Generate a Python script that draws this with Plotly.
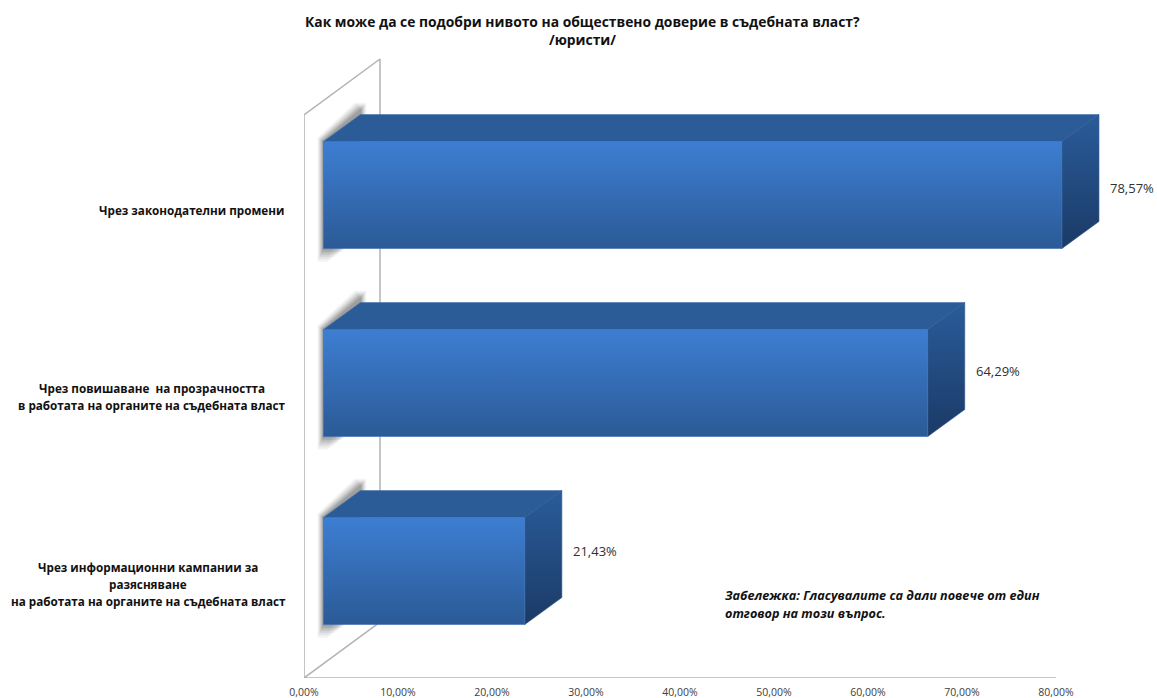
import plotly.graph_objects as go

# ---- data ----
categories = [
    "Чрез законодателни промени",
    "Чрез повишаване  на прозрачността<br>в работата на органите на съдебната власт",
    "Чрез информационни кампании за<br>разясняване<br>на работата на органите на съдебната власт",
]
values = [78.57, 64.29, 21.43]
value_labels = ["78,57%", "64,29%", "21,43%"]
tick_values = [0, 10, 20, 30, 40, 50, 60, 70, 80]
tick_labels = ["0,00%", "10,00%", "20,00%", "30,00%", "40,00%", "50,00%", "60,00%", "70,00%", "80,00%"]
title_lines = ["Как може да се подобри нивото на обществено доверие в съдебната власт?", "/юристи/"]
note_lines = ["Забележка: Гласувалите са дали повече от един", "отговор на този въпрос."]

# ---- geometry / style ----
W, H = 1157, 698
ML, MT, MB = 304, 40, 20
PX_PER_PCT = 9.4
PX_PER_CAT = 188.0
FIRST_CENTER = 195
FONT = "Open Sans"
GRAY = "#b2b2b2"


def dx(p):
    return p / PX_PER_PCT


def dy(p):
    return p / PX_PER_CAT


def paper_x(px):
    return (px - ML) / (W - ML)


def paper_y(py):
    return (H - py - MB) / (H - MT - MB)


x_max = (W - ML) / PX_PER_PCT
y_bottom = (H - MB - FIRST_CENTER) / PX_PER_CAT
y_top = (MT - FIRST_CENTER) / PX_PER_CAT

BAR_X0 = dx(19.4)
HALF_H = dy(53.5)
DX, DY = dx(37), dy(27)
WALL_DX, WALL_DY = dx(76), dy(56)
WALL_H = dy(563)

fig = go.Figure()


def poly(xs, ys, **kw):
    fig.add_trace(go.Scatter(x=xs, y=ys, mode="lines", hoverinfo="skip", showlegend=False, cliponaxis=False, **kw))


# wall + floor
poly([0, 0, WALL_DX, WALL_DX, 0, 80],
     [y_bottom, y_bottom - WALL_H, y_bottom - WALL_H - WALL_DY, y_bottom - WALL_DY, y_bottom, y_bottom],
     line=dict(color=GRAY, width=1.5))

for i, v in enumerate(values):
    top, bot = i - HALF_H, i + HALF_H
    x1 = BAR_X0 + v

    # soft shadow on the wall (stacked translucent layers, widest and faintest first)
    for grow, alpha in [(8, .035), (7, .05), (6, .06), (5, .07), (4, .09), (3, .10), (2, .12), (1, .14)]:
        g = dx(grow * .75)
        h = dy(grow)
        poly([BAR_X0 - g, BAR_X0 - g + DX, BAR_X0 + DX + g, BAR_X0 + DX + g, BAR_X0 + dx(22) - dx(grow * 2.2), BAR_X0 - g],
             [top - h * .5, top - DY - dy(4) - h, top - DY - dy(4) - h, top - DY + dy(6), bot + h * 1.7, bot + h * 1.7],
             fill="toself", fillcolor=f"rgba(70,70,70,{alpha})", line=dict(width=0))

    # top face
    poly([BAR_X0, BAR_X0 + DX, x1 + DX, x1, BAR_X0],
         [top, top - DY, top - DY, top, top],
         fill="toself", fillcolor="#2c5c98", line=dict(color="#4a76ad", width=.6))
    # side face
    poly([x1, x1 + DX, x1 + DX, x1, x1],
         [top, top - DY, bot - DY, bot, top],
         fill="toself",
         fillgradient=dict(type="vertical", colorscale=[[0, "#1b3a66"], [1, "#2a5c9a"]]),
         line=dict(color="#2a5387", width=.6))
    # front face
    poly([BAR_X0, x1, x1, BAR_X0, BAR_X0],
         [top, top, bot, bot, top],
         fill="toself",
         fillgradient=dict(type="vertical", colorscale=[[0, "#2b5a96"], [1, "#3d7ed2"]]),
         line=dict(color="#3a6fb5", width=.6))

annotations = []
label_shift = [14.5, 13.5, 12.5]   # px below the bar centre of the label block's centre
label_centre = [191.5, 152, 148]   # px centre of each label block
value_shift = [-7, -12, -20]
LINE_GAP = 17
for i, (c, v, lab) in enumerate(zip(categories, values, value_labels)):
    lines = c.split("<br>")
    for j, line in enumerate(lines):
        offset = (j - (len(lines) - 1) / 2) * LINE_GAP
        annotations.append(dict(x=paper_x(label_centre[i]), y=i, xref="paper", yref="y", text=f"<b>{line}</b>",
                                showarrow=False, xanchor="center", yanchor="middle",
                                yshift=-(label_shift[i] + offset),
                                font=dict(family=FONT, size=11.7, color="#111111")))
    annotations.append(dict(x=BAR_X0 + v + dx(47), y=i, xref="x", yref="y", text=lab, showarrow=False,
                            xanchor="left", yanchor="middle", yshift=-value_shift[i], borderpad=0,
                            font=dict(family=FONT, size=13, color="#303030")))

for py, line in zip([22, 39.5], title_lines):
    annotations.append(dict(x=paper_x(582.5), y=paper_y(py), xref="paper", yref="paper",
                            text=f"<b>{line}</b>", showarrow=False, xanchor="center", yanchor="middle",
                            font=dict(family=FONT, size=13.85, color="#111111")))
for py, line in zip([595, 613], note_lines):
    annotations.append(dict(x=paper_x(722.5), y=paper_y(py), xref="paper", yref="paper",
                            text=f"<b><i>{line}</i></b>", showarrow=False, xanchor="left", yanchor="middle",
                            font=dict(family=FONT, size=12.65, color="#111111")))

fig.update_layout(
    width=W, height=H, autosize=False,
    margin=dict(l=ML, r=0, t=MT, b=MB, pad=0),
    paper_bgcolor="white", plot_bgcolor="white",
    showlegend=False,
    xaxis=dict(range=[0, x_max], tickmode="array", tickvals=tick_values, ticktext=tick_labels,
               showgrid=False, zeroline=False, showline=False, ticks="", ticklabelstandoff=6,
               tickfont=dict(family=FONT, size=10.5, color="#404040"), fixedrange=True),
    yaxis=dict(range=[y_bottom, y_top], visible=False, fixedrange=True),
    annotations=annotations,
)

fig.write_html("out.html", include_plotlyjs=True, config={"displayModeBar": False},
               post_script="document.body.style.margin='0';document.body.style.overflow='hidden';")
